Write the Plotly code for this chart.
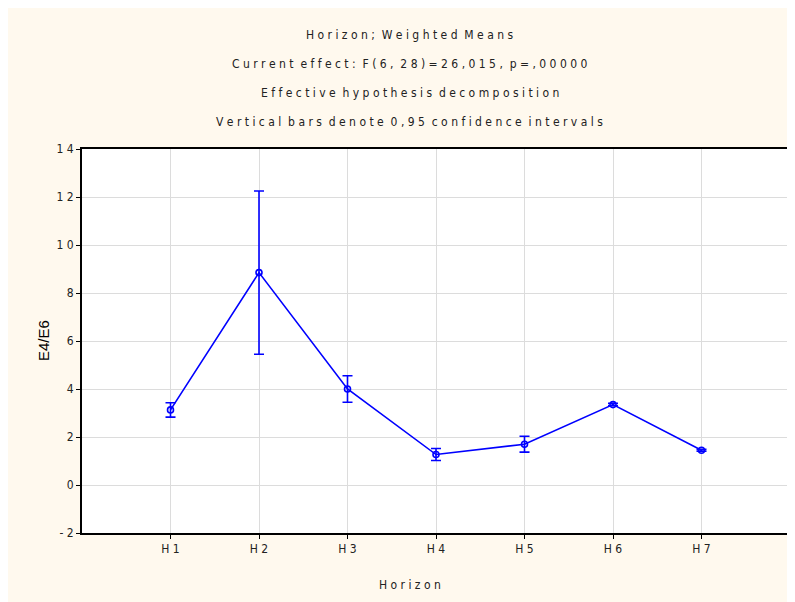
import plotly.graph_objects as go

categories = ["H1", "H2", "H3", "H4", "H5", "H6", "H7"]
means = [3.13, 8.85, 4.0, 1.27, 1.70, 3.35, 1.45]
ci_half = [0.30, 3.40, 0.55, 0.25, 0.33, 0.05, 0.04]
y_ticks = [-2, 0, 2, 4, 6, 8, 10, 12, 14]

title_lines = [
    "Horizon; Weighted Means",
    "Current effect: F(6, 28)=26,015, p=,00000",
    "Effective hypothesis decomposition",
    "Vertical bars denote 0,95 confidence intervals",
]


def spaced(s):
    return " ".join(list(s)).replace("   ", "  ")


FONT = "DejaVu Sans Condensed, Liberation Sans Narrow, Arial Narrow, sans-serif"
TXT = "#222222"

x_idx = list(range(len(categories)))

fig = go.Figure()
fig.add_trace(go.Scatter(
    x=x_idx, y=means,
    mode="lines+markers",
    line=dict(color="#0000FF", width=1.6),
    marker=dict(symbol="circle-open", size=6, color="#0000FF", line=dict(width=1.6, color="#0000FF")),
    error_y=dict(type="data", array=ci_half, visible=True, color="#0000FF", thickness=1.6, width=5),
    showlegend=False,
))

for i, line in enumerate(title_lines):
    fig.add_annotation(
        text=spaced(line), xref="paper", yref="paper",
        x=0.463, y=1.0 + (114 - 29 * i) / 384.0,
        xanchor="center", yanchor="middle", showarrow=False,
        font=dict(family=FONT, size=12, color=TXT),
    )

fig.add_annotation(
    text=spaced("Horizon"), xref="paper", yref="paper",
    x=0.463, y=-52 / 384.0, xanchor="center", yanchor="middle", showarrow=False,
    font=dict(family=FONT, size=12, color=TXT),
)

fig.add_annotation(
    text="E4/E6", xref="paper", yref="paper",
    x=-39 / 708.0, y=0.5, xanchor="center", yanchor="middle", showarrow=False,
    textangle=-90,
    font=dict(family="Liberation Sans, Arial, sans-serif", size=15, color="#000000"),
)

fig.update_layout(
    width=795, height=602,
    margin=dict(l=74, r=13, t=141, b=77, autoexpand=False),
    paper_bgcolor="#FFF9EE",
    plot_bgcolor="#FFFFFF",
    font=dict(family=FONT, size=12, color=TXT),
)
fig.update_xaxes(
    range=[-1, 7],
    tickvals=x_idx,
    ticktext=[spaced(c) for c in categories],
    showgrid=True, gridcolor="#DCDCDC", gridwidth=1,
    showline=True, linecolor="#000000", linewidth=2, mirror=True,
    ticks="outside", ticklen=4, tickcolor="#000000",
    zeroline=False, automargin=False,
    tickfont=dict(family=FONT, size=12, color=TXT),
)
fig.update_yaxes(
    range=[-2, 14],
    tickvals=y_ticks,
    ticktext=[spaced(str(v)) for v in y_ticks],
    showgrid=True, gridcolor="#DCDCDC", gridwidth=1,
    showline=True, linecolor="#000000", linewidth=2, mirror=True,
    ticks="outside", ticklen=4, tickcolor="#000000",
    zeroline=False, automargin=False,
    tickfont=dict(family=FONT, size=12, color=TXT),
)

fig.write_html("out.html")
